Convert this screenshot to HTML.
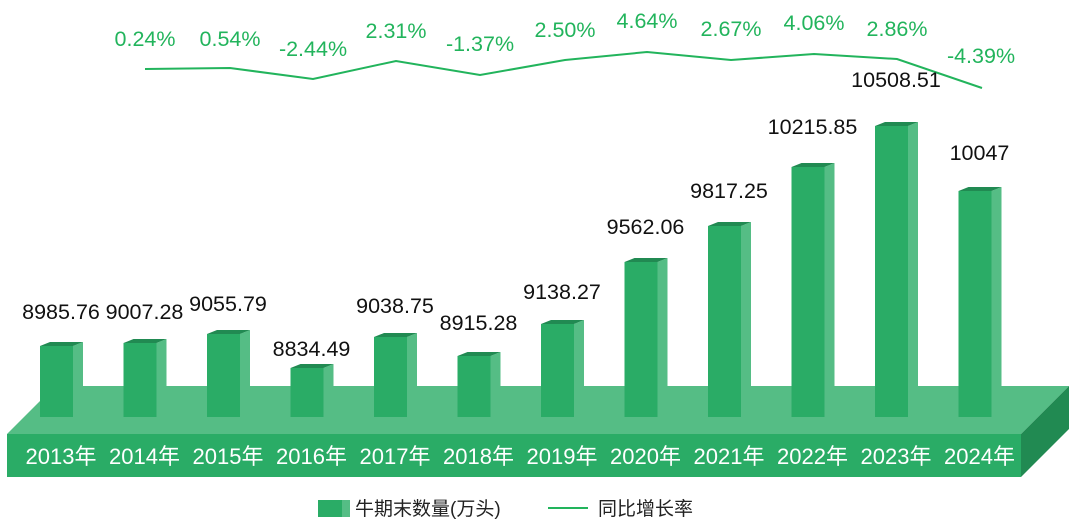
<!DOCTYPE html><html><head><meta charset="utf-8"><style>body{margin:0;background:#fff}svg{display:block}</style></head><body>
<svg width="1080" height="528" xmlns="http://www.w3.org/2000/svg" font-family="Liberation Sans, Noto Sans CJK SC, sans-serif">
<polygon points="7,434 55,386 1069,386 1021,434" fill="#55bd85"/>
<rect x="7" y="434" width="1014" height="43" fill="#2aac66"/>
<polygon points="1021,434 1069,386 1069,429 1021,477" fill="#218a52"/>
<g id="bars"></g>
<polyline fill="none" stroke="#22b45c" stroke-width="2" points="145,69 230,68 313,79 396,61 480,75 565,60 647,52 731,60 814,54 897,59 982,88"/>
<g fill="#22b45c" font-size="21.5" text-anchor="middle">
<text x="145" y="46">0.24%</text><text x="230" y="46">0.54%</text><text x="313" y="56">-2.44%</text><text x="396" y="38">2.31%</text><text x="480" y="51">-1.37%</text><text x="565" y="37">2.50%</text><text x="647" y="28">4.64%</text><text x="731" y="36">2.67%</text><text x="814" y="30">4.06%</text><text x="897" y="36">2.86%</text><text x="981" y="63">-4.39%</text>
</g>
<g id="labels" font-size="21.5" text-anchor="middle" fill="#111"></g>
<g id="years" font-size="22" text-anchor="middle" fill="#fff"></g>
<rect x="318" y="500" width="24" height="17" fill="#2aac66"/><rect x="342" y="500" width="8" height="17" fill="#55bd85"/>
<text x="355" y="515" font-size="19" fill="#222">牛期末数量(万头)</text>
<line x1="548" y1="508" x2="588" y2="508" stroke="#22b45c" stroke-width="2"/>
<text x="598" y="515" font-size="19" fill="#222">同比增长率</text>
</svg>
<script>
var tops=[346,343,334,368,337,356,324,262,226,167,126,191];
var vals=["8985.76","9007.28","9055.79","8834.49","9038.75","8915.28","9138.27","9562.06","9817.25","10215.85","10508.51","10047"];
var ly=[312,312,304,349,306,323,292,227,191,127,80,153];
var ns="http://www.w3.org/2000/svg",b=document.getElementById('bars'),l=document.getElementById('labels'),y=document.getElementById('years');
function el(t,a,p){var e=document.createElementNS(ns,t);for(var k in a)e.setAttribute(k,a[k]);p.appendChild(e);return e;}
for(var i=0;i<12;i++){var x=40+i*83.5,t=tops[i];
el('polygon',{points:(x+33)+','+t+' '+(x+43)+','+(t-4)+' '+(x+43)+','+413+' '+(x+33)+','+417,fill:'#55bd85'},b);
el('polygon',{points:x+','+t+' '+(x+10)+','+(t-4)+' '+(x+43)+','+(t-4)+' '+(x+33)+','+t,fill:'#218a52'},b);
el('rect',{x:x,y:t,width:33,height:417-t,fill:'#2aac66'},b);
el('text',{x:x+21,y:ly[i]+7},l).textContent=vals[i];
el('text',{x:x+21,y:464},y).textContent=(2013+i)+'年';}
</script>
</body></html>
